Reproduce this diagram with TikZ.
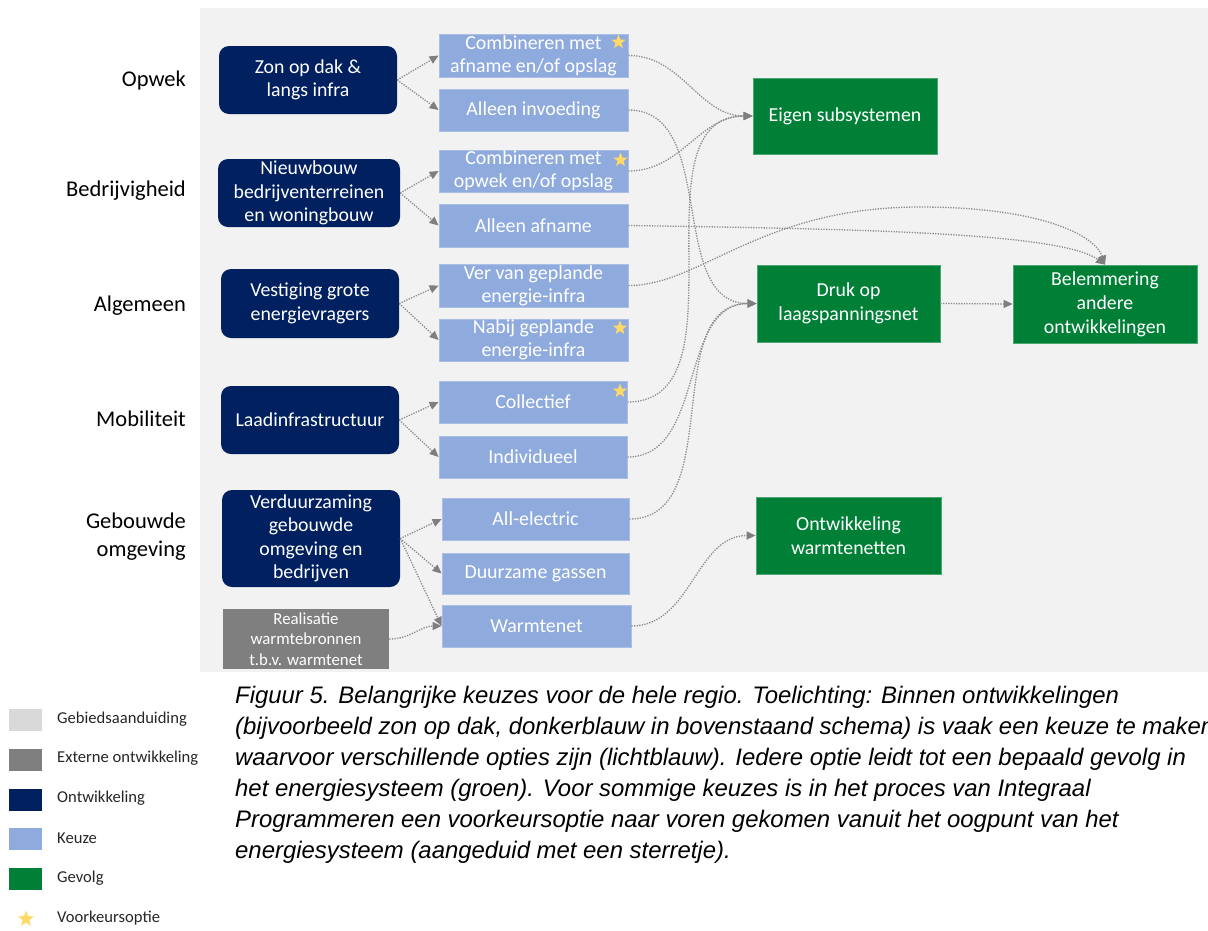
\documentclass[tikz,border=0pt]{standalone}
\usepackage{fontspec}
\setmainfont{Carlito}
\newfontfamily\capfont{Liberation Sans}
\usetikzlibrary{arrows.meta,shapes.geometric}
\definecolor{panel}{HTML}{F2F2F2}
\definecolor{darkb}{HTML}{002060}
\definecolor{lightb}{HTML}{8FAADC}
\definecolor{greenb}{HTML}{008037}
\definecolor{grayb}{HTML}{7F7F7F}
\definecolor{gebied}{HTML}{D9D9D9}
\definecolor{starc}{HTML}{FFD966}
\definecolor{conn}{HTML}{8C8C8C}
\tikzset{
  devbox/.style={shape=rectangle, rounded corners=10pt, fill=darkb, text=white, align=center, inner sep=0pt, font=\fontsize{19.8}{23.5}\selectfont},
  extbox/.style={shape=rectangle, fill=grayb, text=white, align=center, inner sep=0pt, font=\fontsize{16.8}{20.5}\selectfont},
  choicebox/.style={shape=rectangle, fill=lightb, draw=lightb!75!white, line width=0.8pt, text=white, align=center, inner sep=0pt, font=\fontsize{19.9}{23}\selectfont},
  resbox/.style={shape=rectangle, fill=greenb, draw=greenb!70!white, line width=0.8pt, text=white, align=center, inner sep=0pt, font=\fontsize{19.8}{24}\selectfont},
  catlabel/.style={anchor=east, align=right, inner sep=0pt, font=\fontsize{22.5}{28}\selectfont},
  prefstar/.style={shape=star, star points=5, star point ratio=2.4, fill=starc, draw=none, minimum size=15pt, inner sep=0pt},
  legsq/.style={shape=rectangle, minimum width=33pt, minimum height=22pt, inner sep=0pt},
  legtext/.style={anchor=west, inner sep=0pt, font=\fontsize{16.6}{20}\selectfont, text=black!85},
  link/.style={draw=conn, line width=1.3pt, dash pattern=on 1.3pt off 1.3pt, -{Triangle[length=9pt,width=8pt,fill=grayb,color=grayb]}},
  capline/.style={anchor=base west, inner sep=0pt, font=\capfont\itshape\fontsize{23.9}{31}\selectfont}
}
\begin{document}
\begin{tikzpicture}[x=1pt,y=-1pt]
\useasboundingbox (0,0) rectangle (1208,930);
\clip (0,0) rectangle (1208,930);
\fill[panel] (200,8) rectangle (1208,672);

% category labels
\node[catlabel] (lopwek) at (186,80) {Opwek};
\node[catlabel] (lbedr) at (186,191) {Bedrijvigheid};
\node[catlabel] (lalg) at (186,306) {Algemeen};
\node[catlabel] (lmob) at (186,419) {Mobiliteit};
\node[catlabel] (lgeb) at (186,537) {Gebouwde\\omgeving};

% developments
\node[devbox, minimum width=178pt, minimum height=68pt] (zon) at (308,80) {Zon op dak \&\\langs infra};
\node[devbox, minimum width=182pt, minimum height=68pt] (nieuw) at (309,193) {Nieuwbouw\\bedrijventerreinen\\en woningbouw};
\node[devbox, minimum width=178pt, minimum height=69pt] (vest) at (310,303.5) {Vestiging grote\\energievragers};
\node[devbox, minimum width=178pt, minimum height=68pt] (laad) at (310,420) {Laadinfrastructuur};
\node[devbox, minimum width=178pt, minimum height=97pt] (verd) at (311,538.5) {Verduurzaming\\gebouwde\\omgeving en\\bedrijven};
\node[extbox, minimum width=166pt, minimum height=60pt] (real) at (306,639) {Realisatie\\warmtebronnen\\t.b.v. warmtenet};

% choices
\node[choicebox, minimum width=189pt, minimum height=43pt] (cA) at (533.5,55.5) {Combineren met\\afname en/of opslag};
\node[choicebox, minimum width=189pt, minimum height=42pt] (ai) at (533.5,110) {Alleen invoeding};
\node[choicebox, minimum width=189pt, minimum height=42pt] (cO) at (533.5,171) {Combineren met\\opwek en/of opslag};
\node[choicebox, minimum width=189pt, minimum height=43pt] (aa) at (533.5,225.5) {Alleen afname};
\node[choicebox, minimum width=189pt, minimum height=43pt] (vv) at (533.5,285.5) {Ver van geplande\\energie-infra};
\node[choicebox, minimum width=189pt, minimum height=42pt] (nb) at (533.5,340) {Nabij geplande\\energie-infra};
\node[choicebox, minimum width=188pt, minimum height=42pt] (co) at (533,402) {Collectief};
\node[choicebox, minimum width=188pt, minimum height=42pt] (ind) at (533,457) {Individueel};
\node[choicebox, minimum width=187pt, minimum height=42pt] (ae) at (535.5,519) {All-electric};
\node[choicebox, minimum width=187pt, minimum height=41pt] (dg) at (535.5,573.5) {Duurzame gassen};
\node[choicebox, minimum width=189pt, minimum height=42pt] (wn) at (536.5,626) {Warmtenet};

% stars
\node[prefstar] (s1) at (618.5,42) {};
\node[prefstar] (s2) at (620.5,160) {};
\node[prefstar] (s3) at (620,328) {};
\node[prefstar] (s4) at (620,391) {};

% results
\node[resbox, minimum width=184pt, minimum height=76pt] (eigen) at (845,116) {Eigen subsystemen};
\node[resbox, minimum width=183pt, minimum height=77pt] (druk) at (848.5,303.5) {Druk op\\laagspanningsnet};
\node[resbox, minimum width=184pt, minimum height=78pt] (bel) at (1105,304) {Belemmering\\andere\\ontwikkelingen};
\node[resbox, minimum width=185pt, minimum height=77pt] (ontw) at (848.5,535.5) {Ontwikkeling\\warmtenetten};

% development -> choice
\draw[link] (zon.east) -- (cA.west);
\draw[link] (zon.east) -- (ai.west);
\draw[link] (nieuw.east) -- (cO.west);
\draw[link] (nieuw.east) -- (aa.west);
\draw[link] (vest.east) -- (vv.west);
\draw[link] (vest.east) -- (nb.west);
\draw[link] (laad.east) -- (co.west);
\draw[link] (laad.east) -- (ind.west);
\draw[link] (verd.east) -- (ae.west);
\draw[link] (verd.east) -- (dg.west);
\draw[link] (verd.east) -- (wn.west);
\draw[link] (real.east) to[out=0,in=180] (wn.west);

% choice -> result
\draw[link] (cA.east) to[out=0,in=180] (eigen.west);
\draw[link] (cO.east) to[out=0,in=180] (eigen.west);
\draw[link] (co.east) to[out=0,in=180] (eigen.west);
\draw[link] (ai.east) to[out=0,in=180] (druk.west);
\draw[link] (ind.east) to[out=0,in=180] (druk.west);
\draw[link] (ae.east) to[out=0,in=180] (druk.west);
\draw[link] (aa.east) .. controls (850,229) and (1060,232) .. (bel.north);
\draw[link] (vv.east) .. controls (700,286) and (760,207) .. (920,207) .. controls (1040,207) and (1095,235) .. (bel.north);
\draw[link] (druk.east) -- (bel.west);
\draw[link] (wn.east) to[out=0,in=180] (ontw.west);

% legend
\node[legsq, fill=gebied] (lg1) at (25.5,720) {};
\node[legsq, fill=grayb] (lg2) at (25.5,760) {};
\node[legsq, fill=darkb] (lg3) at (25.5,800) {};
\node[legsq, fill=lightb] (lg4) at (25.5,839) {};
\node[legsq, fill=greenb] (lg5) at (25.5,879) {};
\node[prefstar, minimum size=17pt] (lg6) at (26,919) {};
\node[legtext] (lt1) at (57,719) {Gebiedsaanduiding};
\node[legtext] (lt2) at (57,758) {Externe ontwikkeling};
\node[legtext] (lt3) at (57,798) {Ontwikkeling};
\node[legtext] (lt4) at (57,838) {Keuze};
\node[legtext] (lt5) at (57,878) {Gevolg};
\node[legtext] (lt6) at (57,918) {Voorkeursoptie};

% caption
\node[capline] (c1) at (235,703) {Figuur 5. Belangrijke keuzes voor de hele regio. Toelichting: Binnen ontwikkelingen};
\node[capline] (c2) at (235,734) {(bijvoorbeeld zon op dak, donkerblauw in bovenstaand schema) is vaak een keuze te maken};
\node[capline] (c3) at (235,765) {waarvoor verschillende opties zijn (lichtblauw). Iedere optie leidt tot een bepaald gevolg in};
\node[capline] (c4) at (235,796) {het energiesysteem (groen). Voor sommige keuzes is in het proces van Integraal};
\node[capline] (c5) at (235,827) {Programmeren een voorkeursoptie naar voren gekomen vanuit het oogpunt van het};
\node[capline] (c6) at (235,858) {energiesysteem (aangeduid met een sterretje).};
\end{tikzpicture}
\end{document}
